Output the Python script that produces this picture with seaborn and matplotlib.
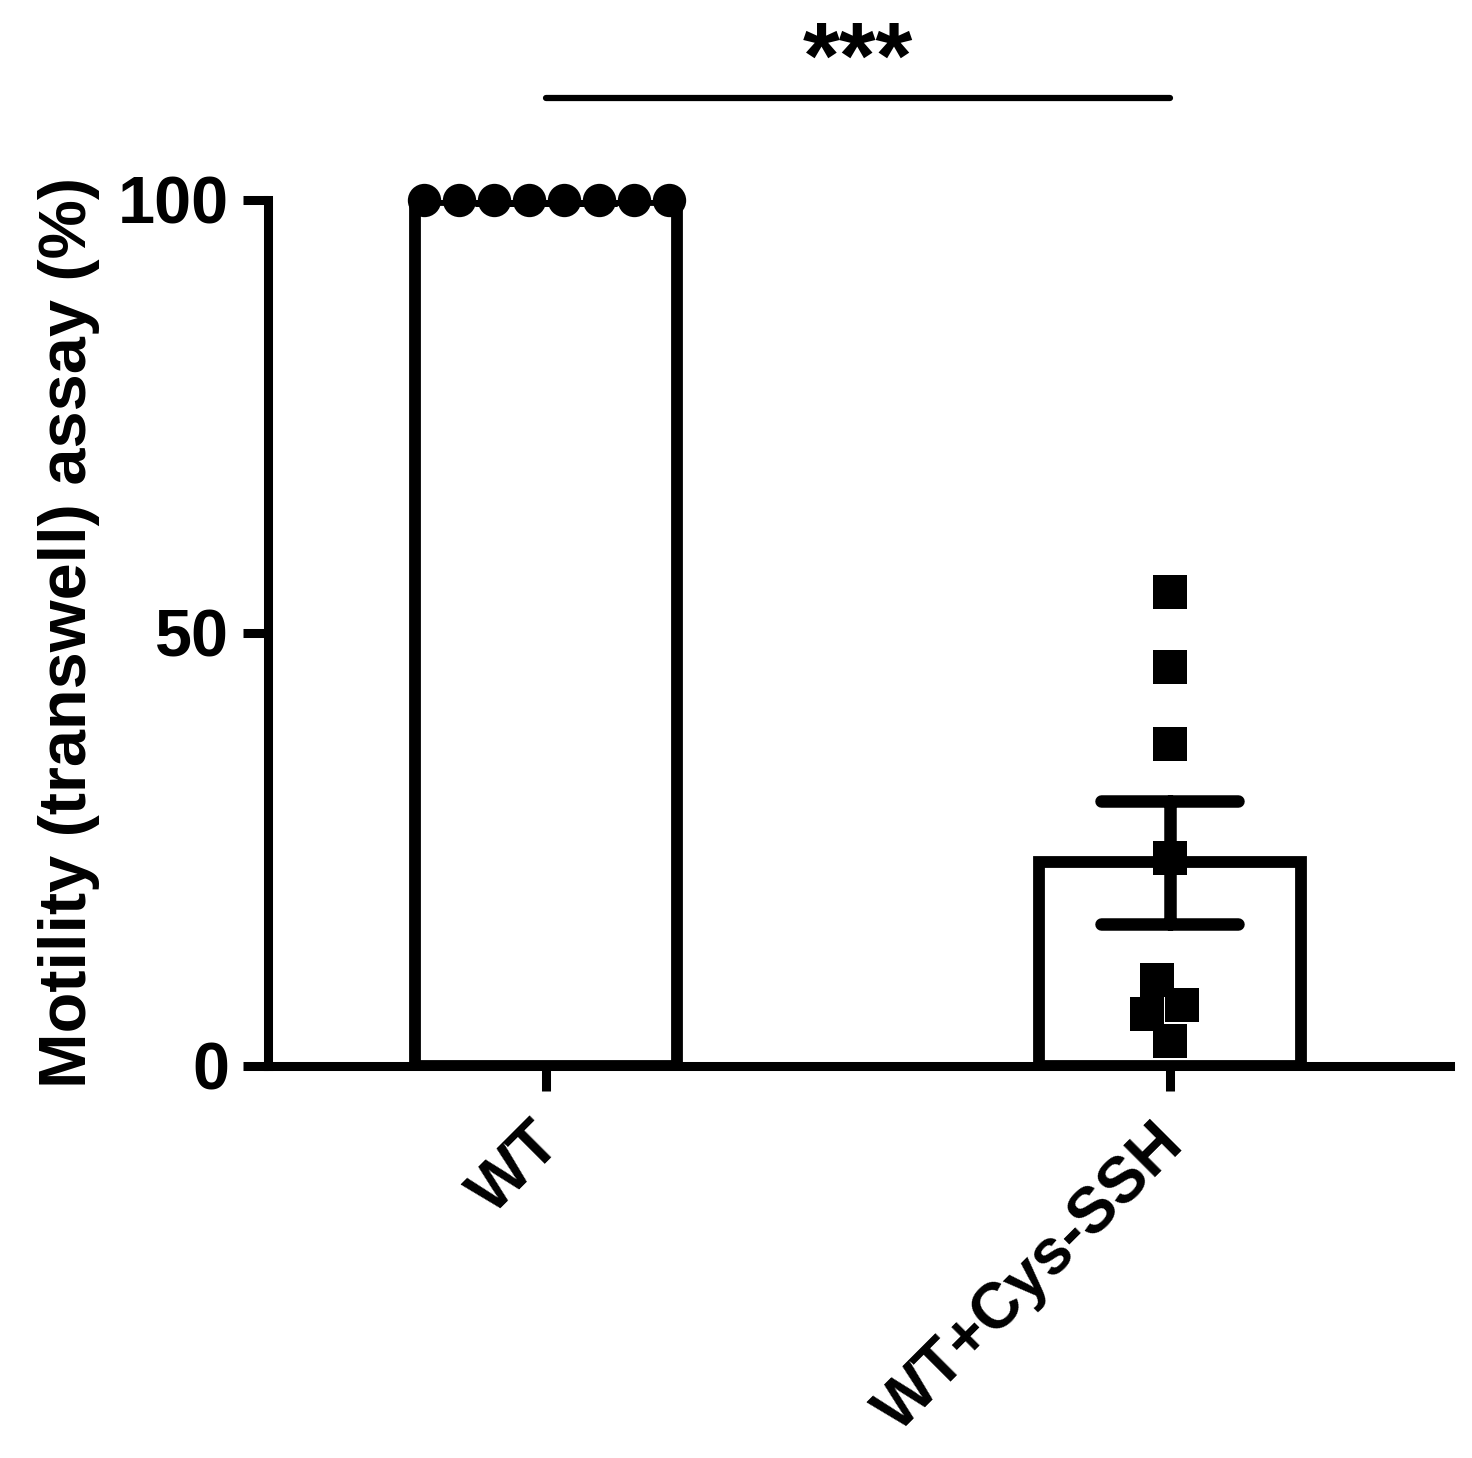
import numpy as np
import seaborn as sns
import pandas as pd
import matplotlib.pyplot as plt
from matplotlib.transforms import ScaledTranslation

sns.set_style("ticks")
plt.rcParams["font.family"] = ["Liberation Sans", "DejaVu Sans"]
plt.rcParams["font.weight"] = "bold"
for k in ["axes.edgecolor", "xtick.color", "ytick.color", "text.color", "axes.labelcolor"]:
    plt.rcParams[k] = "black"

groups = ["WT", "WT+Cys-SSH"]
wt_vals = [100, 100, 100, 100, 100, 100, 100, 100]
cys_vals = [54.7, 46.1, 37.2, 24.0, 7.0, 2.9, 9.9, 6.0]
y_ticks = [0, 50, 100]
ylabel = "Motility (transwell) assay (%)"
sig_text = "***"

df = pd.DataFrame({
    "group": ["WT"] * len(wt_vals) + ["WT+Cys-SSH"] * len(cys_vals),
    "value": wt_vals + cys_vals,
})

lw = 6.5
fig = plt.figure(figsize=(14.72, 14.58), dpi=100)
ax = fig.add_axes([0.182, 0.269, 0.803, 0.594])

sns.barplot(data=df, x="group", y="value", order=groups, ax=ax,
            width=0.42, color="white", edgecolor="black", linewidth=8.5,
            errorbar="se", capsize=0.22,
            err_kws={"color": "black", "linewidth": 9, "solid_capstyle": "round"})

n_before = len(ax.collections)
sns.swarmplot(data=df[df.group == "WT"], x="group", y="value", order=groups, ax=ax,
              marker="o", color="black", size=24, linewidth=0, clip_on=False)
wt_colls = [c for c in ax.collections[n_before:] if len(c.get_offsets()) > 0]

sns.swarmplot(data=df[df.group == "WT+Cys-SSH"], x="group", y="value", order=groups, ax=ax,
              marker="s", color="black", size=25, linewidth=0, clip_on=False)

ax.set_xlim(-0.446, 1.449)
ax.set_ylim(0, 100)
ax.set_yticks(y_ticks)
ax.set_xlabel("")
ax.set_ylabel(ylabel, fontsize=48, fontweight="bold", labelpad=13)
sns.despine(ax=ax)
for s in ["left", "bottom"]:
    ax.spines[s].set_linewidth(lw)
ax.tick_params(axis="both", length=18, width=lw, labelsize=48, pad=10)
ax.tick_params(axis="x", labelsize=46)
plt.setp(ax.get_xticklabels(), rotation=45, ha="right", rotation_mode="anchor", fontweight="bold")
plt.setp(ax.get_yticklabels(), fontweight="bold")
shift = ScaledTranslation(-12 / 72, -6 / 72, fig.dpi_scale_trans)
for lab in ax.get_xticklabels():
    lab.set_transform(lab.get_transform() + shift)

# significance bar
ax.plot([0, 1], [111.8, 111.8], color="black", linewidth=4.5, clip_on=False)
ax.text(0.5, 112.9, sig_text, ha="center", va="baseline", fontsize=68, fontweight="bold")

# let seaborn lay out the swarm once, then centre the WT row on its category
fig.canvas.draw()
for coll in wt_colls:
    offs = np.array(coll.get_offsets(), dtype=float)
    offs[:, 0] -= offs[:, 0].mean()
    if "draw" in coll.__dict__:
        del coll.draw
    coll.set_offsets(offs)

fig.savefig("out.png", dpi=100)
